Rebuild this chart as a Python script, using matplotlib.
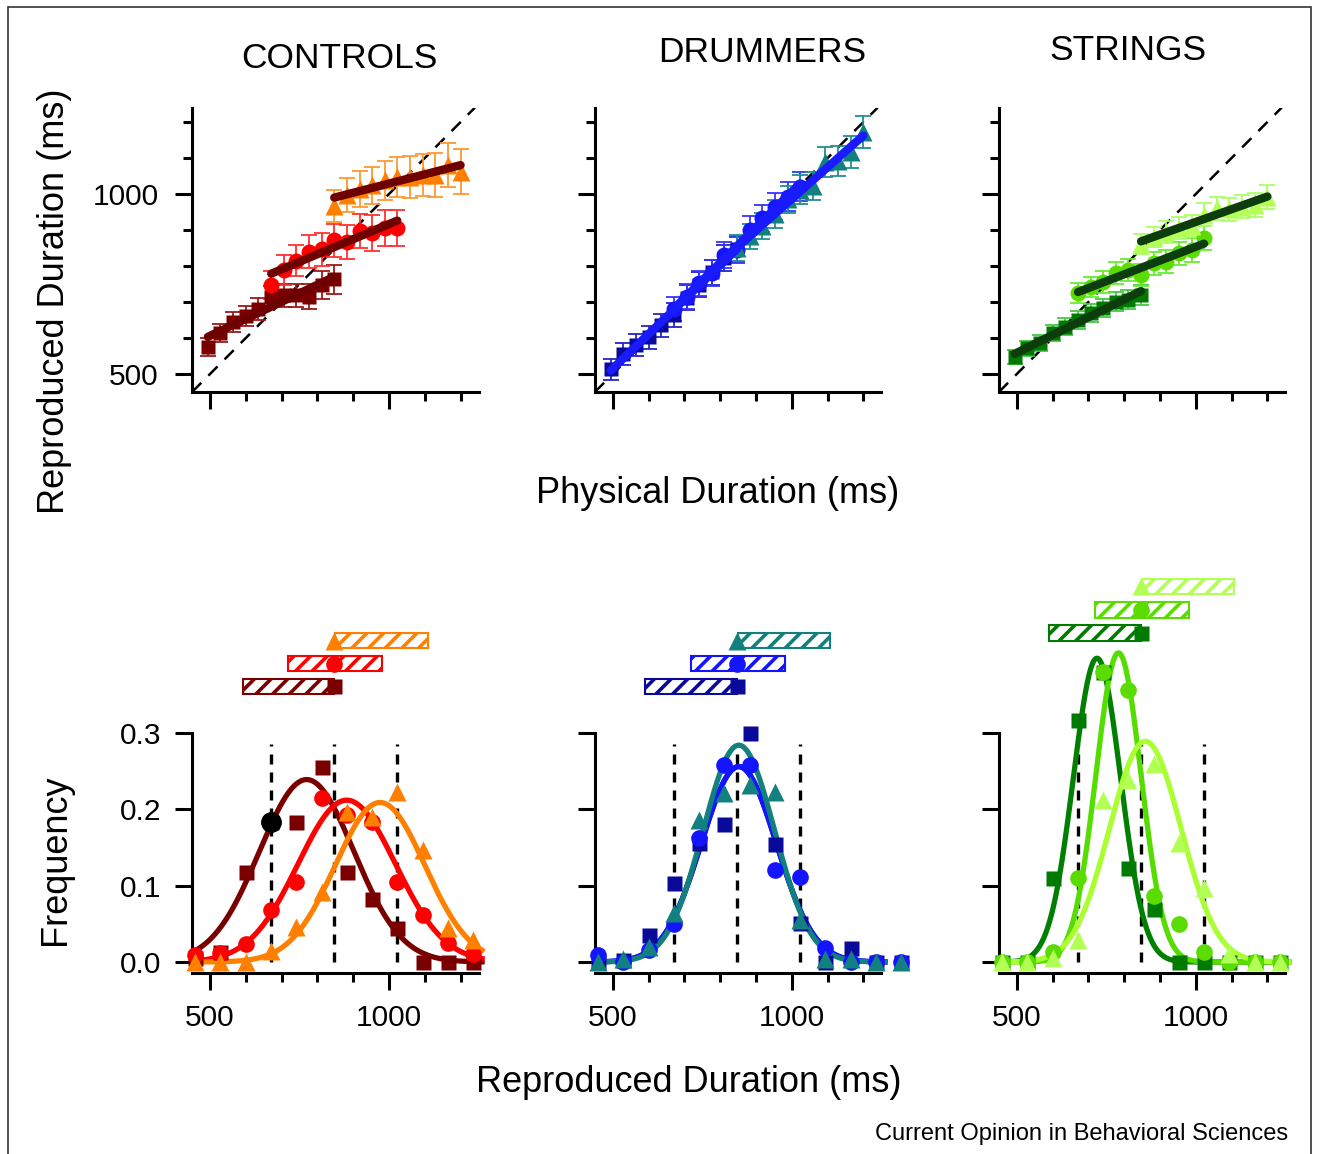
import numpy as np
import matplotlib
matplotlib.use("Agg")
import matplotlib.pyplot as plt
from matplotlib.ticker import FixedLocator, NullFormatter
from matplotlib.patches import Rectangle

plt.rcParams['font.family'] = ['Liberation Sans', 'DejaVu Sans']
plt.rcParams['hatch.linewidth'] = 2.6

groups = ["CONTROLS", "DRUMMERS", "STRINGS"]

# physical durations of the three ranges (ms)
phys_short = [494, 529, 565, 600, 635, 671, 706, 741, 776, 812, 847]
phys_medium = [671, 706, 741, 776, 812, 847, 882, 918, 953, 988, 1023]
phys_long = [847, 882, 918, 953, 988, 1023, 1059, 1094, 1129, 1165, 1200]

# reproduced durations (ms) and errors
ctrl_short = [576, 613, 645, 661, 680, 715, 719, 719, 715, 747, 763]
ctrl_medium = [747, 789, 815, 840, 846, 872, 867, 897, 892, 905, 906]
ctrl_long = [967, 997, 1015, 1024, 1038, 1048, 1048, 1053, 1053, 1081, 1062]
ctrl_short_err = [25, 25, 28, 28, 30, 30, 32, 32, 35, 38, 40]
ctrl_medium_err = [40, 42, 44, 45, 45, 46, 48, 48, 50, 50, 50]
ctrl_long_err = [45, 48, 50, 52, 55, 55, 58, 58, 60, 62, 62]

drum_short = [513, 555, 581, 602, 636, 664, 712, 748, 782, 822, 848]
drum_medium = [680, 715, 752, 780, 830, 844, 900, 932, 965, 992, 1020]
drum_long = [850, 882, 912, 944, 985, 1012, 1022, 1088, 1092, 1117, 1173]
drum_short_err = [30, 30, 30, 32, 32, 34, 34, 35, 35, 36, 36]
drum_medium_err = [34, 35, 35, 36, 36, 37, 38, 38, 38, 40, 40]
drum_long_err = [35, 36, 36, 38, 38, 40, 40, 42, 42, 44, 45]

str_short = [548, 571, 585, 613, 631, 650, 669, 682, 701, 706, 719]
str_medium = [726, 742, 756, 780, 789, 775, 808, 812, 835, 844, 877]
str_long = [861, 881, 895, 905, 911, 942, 960, 957, 965, 969, 992]
str_short_err = [20, 20, 22, 22, 24, 24, 25, 25, 26, 26, 28]
str_medium_err = [28, 28, 30, 30, 30, 30, 32, 32, 32, 33, 33]
str_long_err = [28, 28, 30, 30, 30, 32, 32, 32, 33, 33, 34]

# response distributions
bins = [459, 529, 600, 670, 741, 812, 882, 953, 1023, 1094, 1164, 1235, 1305]
ctrl_short_freq = [0.005, 0.013, 0.118, 0.183, 0.183, 0.256, 0.118, 0.082, 0.044, 0.0, 0.0, 0.0]
ctrl_medium_freq = [0.009, 0.012, 0.024, 0.068, 0.105, 0.215, 0.193, 0.184, 0.105, 0.062, 0.025, 0.011]
ctrl_long_freq = [0.0, 0.0, 0.0, 0.015, 0.046, 0.092, 0.197, 0.19, 0.223, 0.147, 0.044, 0.029]
drum_short_freq = [0.0, 0.002, 0.035, 0.103, 0.156, 0.181, 0.30, 0.155, 0.051, 0.0, 0.018, 0.0, 0.0]
drum_medium_freq = [0.009, 0.0, 0.016, 0.05, 0.162, 0.258, 0.258, 0.12, 0.112, 0.018, 0.0, 0.0, 0.0]
drum_long_freq = [0.0, 0.004, 0.02, 0.064, 0.186, 0.221, 0.232, 0.223, 0.055, 0.004, 0.004, 0.0, 0.0]
str_short_freq = [0.0, 0.0, 0.11, 0.317, 0.38, 0.123, 0.07, 0.0, 0.0, 0.0, 0.0, 0.0]
str_medium_freq = [0.0, 0.0, 0.013, 0.11, 0.38, 0.356, 0.086, 0.05, 0.013, 0.0, 0.0, 0.0]
str_long_freq = [0.0, 0.0, 0.005, 0.029, 0.212, 0.239, 0.26, 0.156, 0.097, 0.01, 0.0, 0.0]
highlight = (670, 0.183)

# gaussian fits: mean, sd, peak
ctrl_fits = [(770, 132, 0.239), (882, 136, 0.212), (975, 125, 0.209)]
drum_fits = [(852, 105, 0.256), (852, 105, 0.256), (852, 100, 0.284)]
str_fits = [(724, 66, 0.398), (784, 63, 0.405), (859, 100, 0.289)]

prior_means = [671, 847, 1023]
bar_start = [591, 719, 849]
bar_end = [847, 980, 1108]
bar_marker_x = 847

colors = {
    "CONTROLS": ['#7a0000', '#ff0000', '#ff8000'],
    "DRUMMERS": ['#0a0a9a', '#1414ff', '#138080'],
    "STRINGS": ['#007a00', '#5bdc00', '#b2ff55'],
}
err_colors = {
    "CONTROLS": ['#a01818', '#ff3030', '#ff9933'],
    "DRUMMERS": ['#2424c8', '#3535ff', '#209090'],
    "STRINGS": ['#44c844', '#66ee33', '#aaff66'],
}
fit_colors = {"CONTROLS": '#6e0000', "DRUMMERS": '#1a1aff', "STRINGS": '#0d3d0d'}
curve_colors = {
    "CONTROLS": ['#7a0000', '#ff0000', '#ff8000'],
    "DRUMMERS": ['#0a0a9a', '#1414ff', '#138080'],
    "STRINGS": ['#008000', '#55dd00', '#aaff33'],
}

reproduced = {
    "CONTROLS": [ctrl_short, ctrl_medium, ctrl_long],
    "DRUMMERS": [drum_short, drum_medium, drum_long],
    "STRINGS": [str_short, str_medium, str_long],
}
errors = {
    "CONTROLS": [ctrl_short_err, ctrl_medium_err, ctrl_long_err],
    "DRUMMERS": [drum_short_err, drum_medium_err, drum_long_err],
    "STRINGS": [str_short_err, str_medium_err, str_long_err],
}
freqs = {
    "CONTROLS": [ctrl_short_freq, ctrl_medium_freq, ctrl_long_freq],
    "DRUMMERS": [drum_short_freq, drum_medium_freq, drum_long_freq],
    "STRINGS": [str_short_freq, str_medium_freq, str_long_freq],
}
fits = {"CONTROLS": ctrl_fits, "DRUMMERS": drum_fits, "STRINGS": str_fits}
physical = [phys_short, phys_medium, phys_long]
markers = ['s', 'o', '^']
top_ms = [10, 11.5, 12.5]
bot_ms = [10.8, 12, 13]

W, H = 1318, 1154
fig = plt.figure(figsize=(W / 100, H / 100), dpi=100)


def fx(x):
    return x / W


def fy(y):
    return 1 - y / H


lefts = [192.1, 594.9, 998.9]
bar_levels = {"CONTROLS": [0.361, 0.391, 0.421], "DRUMMERS": [0.361, 0.391, 0.421],
              "STRINGS": [0.431, 0.461, 0.492]}


def style_axis(ax):
    ax.spines[['top', 'right']].set_visible(False)
    for s in ['left', 'bottom']:
        ax.spines[s].set_linewidth(2.2)
    ax.tick_params(which='major', length=12, width=2.2, direction='out', labelsize=21.5, pad=10)
    ax.tick_params(which='minor', length=6.5, width=2.2, direction='out')
    ax.xaxis.set_major_locator(FixedLocator([500, 1000]))
    ax.xaxis.set_minor_locator(FixedLocator([600, 700, 800, 900, 1100, 1200]))


for i, g in enumerate(groups):
    # top: reproduced vs physical
    ax = fig.add_axes([fx(lefts[i]), fy(392), fx(286.4), 284.4 / H])
    style_axis(ax)
    ax.set_xlim(450, 1250)
    ax.set_ylim(450, 1240)
    ax.yaxis.set_major_locator(FixedLocator([500, 1000]))
    ax.yaxis.set_minor_locator(FixedLocator([600, 700, 800, 900, 1100, 1200]))
    ax.xaxis.set_major_formatter(NullFormatter())
    ax.tick_params(axis='y', pad=12)
    if i > 0:
        ax.yaxis.set_major_formatter(NullFormatter())
    ax.axline((450, 450), slope=1, color='black', lw=1.8, dashes=(5.2, 4), zorder=1)
    for r in range(3):
        ax.errorbar(physical[r], reproduced[g][r], yerr=errors[g][r], fmt='none',
                    ecolor=err_colors[g][r], elinewidth=1.3, capsize=6, capthick=1.3, zorder=2)
        ax.plot(physical[r], reproduced[g][r], markers[r], color=colors[g][r],
                ms=top_ms[r], mec='none', zorder=3)
    for r in range(3):
        k, b = np.polyfit(physical[r], reproduced[g][r], 1)
        xs = np.array([physical[r][0], physical[r][-1]])
        ax.plot(xs, k * xs + b, color=fit_colors[g], lw=6, solid_capstyle='round', zorder=4)

    # bottom: distributions
    ax = fig.add_axes([fx(lefts[i]), fy(973), fx(286.4), 240 / H])
    style_axis(ax)
    ax.set_xlim(450, 1250)
    ax.set_ylim(-0.0144, 0.3)
    ax.spines['left'].set_bounds(0, 0.3)
    ax.set_yticks([0.0, 0.1, 0.2, 0.3])
    if i == 0:
        ax.set_yticklabels(['0.0', '0.1', '0.2', '0.3'])
    else:
        ax.set_yticklabels([])
    ax.vlines(prior_means, 0, 0.285, colors='black', lw=2.4, linestyles=(0, (3, 2.4)), zorder=1)
    xc = np.linspace(450, 1260, 300)
    for r in range(3):
        mu, sd, amp = fits[g][r]
        ax.plot(xc, amp * np.exp(-(xc - mu) ** 2 / (2 * sd ** 2)), color=curve_colors[g][r],
                lw=3.8, clip_on=False, zorder=2 + r * 0.1)
    for r in range(3):
        f = freqs[g][r]
        ax.plot(bins[:len(f)], f, markers[r], color=colors[g][r], ms=bot_ms[r], mec='none',
                clip_on=False, zorder=3 + r * 0.1)
    if g == "CONTROLS":
        ax.plot(*highlight, 'o', color='black', ms=14, clip_on=False, zorder=4)
    for r in range(3):
        yb = bar_levels[g][r]
        ax.barh(yb, bar_end[r] - bar_start[r], left=bar_start[r], height=0.02,
                facecolor='white', edgecolor=colors[g][r], hatch='//', lw=1.5,
                clip_on=False, zorder=5)
        ax.plot(bar_marker_x, yb, markers[r], color=colors[g][r], ms=bot_ms[r], mec='none',
                clip_on=False, zorder=6)

# titles and labels
title_pos = [(339.5, 68), (762, 62), (1128, 60)]
for g, (x, y) in zip(groups, title_pos):
    fig.text(fx(x), fy(y), g, ha='center', va='baseline', fontsize=25.5)

fig.text(fx(55), fy(301), "Reproduced Duration (ms)", rotation=90, ha='center', va='center', fontsize=26)
fig.text(fx(718), fy(503), "Physical Duration (ms)", ha='center', va='baseline', fontsize=26)
fig.text(fx(55), fy(860), "Frequency", rotation=90, ha='center', va='center', fontsize=26)
fig.text(fx(689), fy(1092), "Reproduced Duration (ms)", ha='center', va='baseline', fontsize=26)
fig.text(fx(1288), fy(1140), "Current Opinion in Behavioral Sciences", ha='right', va='baseline',
         fontsize=17)

fig.patches.append(Rectangle((fx(8), fy(1170)), fx(1303), (1170 - 7) / H, transform=fig.transFigure,
                             fill=False, edgecolor='#333333', lw=1.2))

fig.savefig("out.png", dpi=100)
